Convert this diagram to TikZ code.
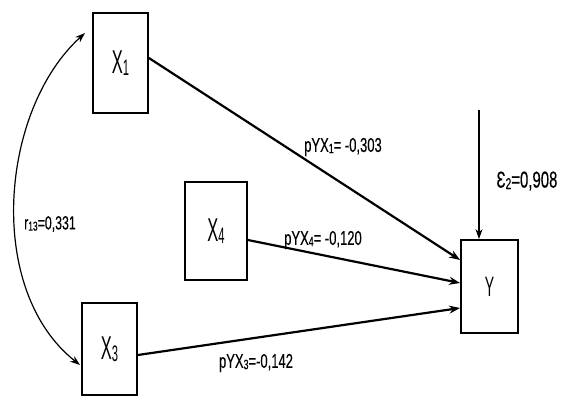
\documentclass[tikz,border=0pt]{standalone}
\usepackage{fontspec}
\setmainfont{Liberation Sans}[FakeStretch=0.5]
\newfontfamily\coeffont{Liberation Sans}[FakeStretch=0.65,FakeBold=0.3]
\usetikzlibrary{arrows.meta}
\newcommand{\lowidx}[1]{\raisebox{-0.12ex}{\scalebox{0.68}{#1}}}
\begin{document}
\begin{tikzpicture}[x=1pt,y=-1pt,
 var/.style={shape=rectangle, draw, line width=1.8pt, inner sep=0pt, font=\fontsize{33}{33}\selectfont},
 path/.style={line width=2.2pt, -{Stealth[length=11pt,width=8pt]}},
 coef/.style={font=\coeffont\fontsize{20}{20}\selectfont, inner sep=0pt}]

 \useasboundingbox (0,0) rectangle (566,398);

 % variables
 \node[var, minimum width=55pt, minimum height=100pt] (x1) at (120.5,63) {X\lowidx{1}};
 \node[var, minimum width=62pt, minimum height=98pt] (x4) at (216,231) {X\lowidx{4}};
 \node[var, minimum width=55pt, minimum height=92pt] (x3) at (109.5,349) {X\lowidx{3}};
 \node[var, minimum width=57pt, minimum height=93pt, font=\fontsize{28}{28}\selectfont] (y) at (489.5,286.5) {Y};

 % paths to Y
 \draw[path] ([yshift=5pt]x1.east) -- ([yshift=26.5pt]y.west);
 \draw[path] ([yshift=-9pt]x4.east) -- ([yshift=3.5pt]y.west);
 \draw[path] ([yshift=-6pt]x3.east) -- ([yshift=-21.5pt]y.west);
 \node[coef] (p1) at (343,147) {pYX\lowidx{1}= -0,303};
 \node[coef] (p4) at (323,240) {pYX\lowidx{4}= -0,120};
 \node[coef] (p3) at (256,363) {pYX\lowidx{3}=-0,142};

 % residual
 \coordinate (e) at (479,110);
 \draw[line width=1.1pt, -{Stealth[length=10pt,width=7pt]}] (e) -- (e |- y.north);
 \node[coef, font=\coeffont\fontsize{23}{23}\selectfont] (eps) at (527,181) {Ɛ\lowidx{2}=0,908};

 % correlation
 \coordinate (c1) at (85,33);
 \coordinate (c3) at (80,365);
 \draw[line width=1.2pt, {Stealth[length=10pt,width=7pt]}-{Stealth[length=10pt,width=7pt]}]
  (c1) .. controls (0,110) and (-15,290) .. (c3);
 \node[coef, font=\coeffont\fontsize{19}{19}\selectfont] (r13) at (50,224) {r\lowidx{13}=0,331};
\end{tikzpicture}
\end{document}
